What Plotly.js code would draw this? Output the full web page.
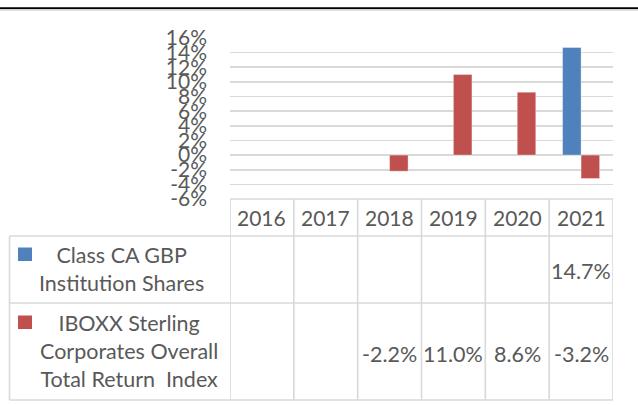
<!DOCTYPE html>
<html>
<head>
<meta charset="utf-8">
<script src="https://cdn.plot.ly/plotly-3.0.1.min.js"></script>
<style>html,body{margin:0;padding:0;background:#fff;}#chart{width:638px;height:405px;}</style>
</head>
<body>
<div id="chart"></div>
<script>
const years = ['2016', '2017', '2018', '2019', '2020', '2021'];
const classCA = [null, null, null, null, null, 14.7];
const iboxx = [null, null, -2.2, 11.0, 8.6, -3.2];
const seriesNames = ['Class CA GBP<br>Institution Shares', 'IBOXX Sterling<br>Corporates Overall<br>Total Return\u00a0\u00a0Index'];
const yTickVals = [-6, -4, -2, 0, 2, 4, 6, 8, 10, 12, 14, 16];
const yTickText = ['-6%', '-4%', '-2%', '0%', '2%', '4%', '6%', '8%', '10%', '12%', '14%', '16%'];

const W = 638, H = 405;
const L = 230, R = 25, T = 38, B = 206;
const plotW = W - L - R, plotH = H - T - B;
const px = x => (x - L) / plotW;          // pixel x -> paper x
const py = y => (H - B - y) / plotH;      // pixel y -> paper y

const blue = '#4F81BD', red = '#C0504D', grey = '#D9D9D9', txt = '#595959';
const font = 'Lato, "Noto Sans", sans-serif';

const traces = [
  {type: 'bar', x: years, y: classCA, name: 'Class CA GBP Institution Shares',
   marker: {color: blue, line: {color: 'rgba(255,255,255,0.35)', width: 1}}},
  {type: 'bar', x: years, y: iboxx, name: 'IBOXX Sterling Corporates Overall Total Return Index',
   marker: {color: red, line: {color: 'rgba(255,255,255,0.35)', width: 1}}}
];

const shapes = [];
const annotations = [];
const lineStyle = {color: grey, width: 1.6};

// top rule
shapes.push({type: 'line', xref: 'paper', yref: 'paper', x0: px(0), x1: px(638), y0: py(8.3), y1: py(8.3), line: {color: '#000', width: 2}});
shapes.push({type: 'line', xref: 'paper', yref: 'paper', x0: px(0), x1: px(638), y0: py(10.3), y1: py(10.3), line: {color: '#E3E3E3', width: 1.6}});

// table geometry (pixels)
const tTop = 199, r1Top = 236, r2Top = 303, tBot = 400, tLeft = 9.5;
shapes.push({type: 'line', xref: 'paper', yref: 'paper', x0: 0, x1: 1, y0: py(tTop), y1: py(tTop), line: lineStyle});
[r1Top, r2Top, tBot].forEach(y => shapes.push({type: 'line', xref: 'paper', yref: 'paper', x0: px(tLeft), x1: 1, y0: py(y), y1: py(y), line: lineStyle}));
shapes.push({type: 'line', xref: 'paper', yref: 'paper', x0: px(tLeft), x1: px(tLeft), y0: py(r1Top), y1: py(tBot), line: lineStyle});
for (let i = 0; i <= years.length; i++) {
  shapes.push({type: 'line', xref: 'x', yref: 'paper', x0: i - 0.5, x1: i - 0.5, y0: py(tTop), y1: py(tBot), line: lineStyle});
}
// legend markers
shapes.push({type: 'rect', xref: 'paper', yref: 'paper', x0: px(18), x1: px(32), y0: py(247.5), y1: py(261), fillcolor: blue, line: {width: 0}});
shapes.push({type: 'rect', xref: 'paper', yref: 'paper', x0: px(18), x1: px(32), y0: py(315.5), y1: py(329), fillcolor: red, line: {width: 0}});

const txtFont = {family: font, size: 21.5, color: txt};
const ann = (x, xref, y, text, size) => ({x: x, xref: xref, y: y, yref: 'paper', text: text, showarrow: false,
  xanchor: 'center', yanchor: 'middle', align: 'center', font: Object.assign({}, txtFont, size ? {size: size} : {})});

// header years
years.forEach((yr, i) => annotations.push(ann(i, 'x', py((tTop + r1Top) / 2), yr, 21)));
// values
const fmt = v => v.toFixed(1) + '%';
years.forEach((yr, i) => {
  if (classCA[i] !== null) annotations.push(ann(i, 'x', py((r1Top + r2Top) / 2 + 1), fmt(classCA[i])));
  if (iboxx[i] !== null) annotations.push(ann(i, 'x', py((r2Top + tBot) / 2 + 2), fmt(iboxx[i])));
});
// legend labels
annotations.push(ann(px(122), 'paper', py(269), seriesNames[0]));
annotations.push(ann(px(129), 'paper', py(350.5), seriesNames[1]));

const layout = {
  width: W, height: H,
  margin: {l: L, r: R, t: T, b: B, pad: 0},
  paper_bgcolor: '#fff', plot_bgcolor: '#fff',
  showlegend: false,
  barmode: 'group', bargap: 0.42, bargroupgap: 0,
  font: {family: font, size: 20, color: txt},
  xaxis: {type: 'category', range: [-0.5, 5.5], showticklabels: false, showgrid: false, zeroline: false, showline: false, ticks: ''},
  yaxis: {range: [-6, 16], tickmode: 'array', tickvals: yTickVals, ticktext: yTickText,
          showgrid: true, gridcolor: grey, gridwidth: 1.6, zeroline: false, showline: false, ticks: '',
          ticklabelstandoff: 22, tickfont: {family: font, size: 21, color: txt}},
  shapes: shapes,
  annotations: annotations
};

Plotly.newPlot('chart', traces, layout, {staticPlot: true, displayModeBar: false});
</script>
</body>
</html>
